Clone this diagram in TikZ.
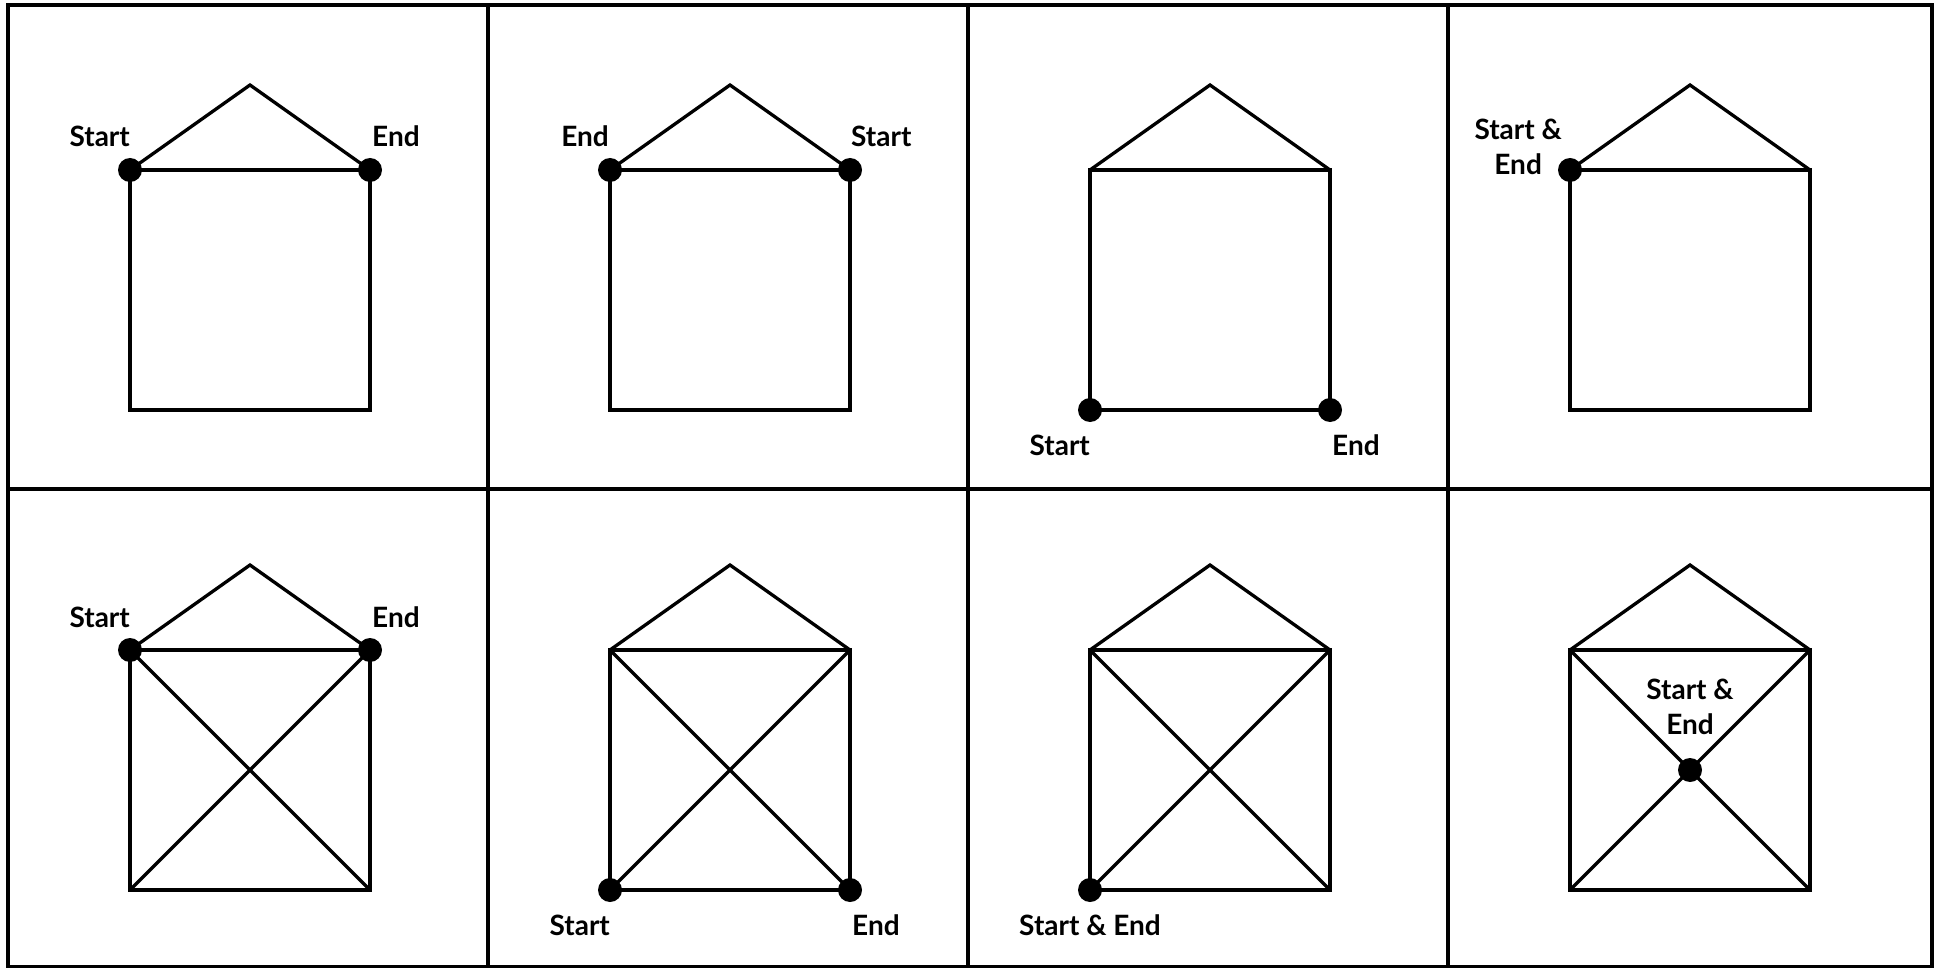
\documentclass[tikz,border=0pt]{standalone}
\usepackage{fontspec}
\setmainfont{Lato}
\begin{document}
\begin{tikzpicture}[x=1pt, y=-1pt, font=\fontsize{28}{35}\selectfont\bfseries]
    \tikzset{
        edge/.style={line width=3.3pt},
        frame/.style={line width=3.6pt},
        dot/.style={circle, fill=black, inner sep=0pt, minimum size=24pt},
        lbl/.style={inner sep=0pt, align=center}
    }
    \useasboundingbox (0,0) rectangle (1939,968);
    % ============= KHUNG
    \draw[frame] (8,5) rectangle (1932,967);
    \foreach \x in {488,968,1448} {\draw[frame] (\x,5) -- (\x,967);}
    \draw[frame] (8,489) -- (1932,489);
    % ============= NGÔI NHÀ
    \newcommand{\drawhouse}[4]{
        \begin{scope}[shift={(#1,#2)}]
            \coordinate (#3bl) at (130,410);
            \coordinate (#3br) at (370,410);
            \coordinate (#3tr) at (370,170);
            \coordinate (#3tl) at (130,170);
            \coordinate (#3ap) at (250,85);
            \coordinate (#3c) at (250,290);
            \draw[edge] (#3bl) -- (#3br) -- (#3tr) -- (#3tl) -- cycle;
            \draw[edge] (#3tl) -- (#3ap) -- (#3tr);
            \ifnum#4=1 \draw[edge] (#3tl) -- (#3br) (#3tr) -- (#3bl); \fi
        \end{scope}
    }
    \foreach \n/\c/\r/\d in {1/0/0/0, 2/1/0/0, 3/2/0/0, 4/3/0/0, 5/0/1/1, 6/1/1/1, 7/2/1/1, 8/3/1/1}{
        \drawhouse{480*\c}{480*\r}{p\n}{\d}
    }
    %---
    \foreach \p in {p1tl,p1tr,p2tl,p2tr,p3bl,p3br,p4tl,p5tl,p5tr,p6bl,p6br,p7bl,p8c}{
        \node[dot] (d-\p) at (\p) {};
    }
    \foreach \p/\a/\dx/\dy/\t in {p1tl/base east/0/23/Start, p1tr/base west/2/23/End,
        p2tl/base east/-1/23/End, p2tr/base west/1/23/Start,
        p3bl/base east/0/-45/Start, p3br/base west/2/-45/End,
        p4tl/east/-8/23/{Start \&\\End},
        p5tl/base east/0/23/Start, p5tr/base west/2/23/End,
        p6bl/base east/0/-45/Start, p6br/base west/2/-45/End,
        p7bl/base/0/-45/{Start \& End}, p8c/south/0/35/{Start \&\\End}}{
        \node[lbl, anchor=\a, xshift=\dx pt, yshift=\dy pt] (l-\p) at (\p) {\t};
    }
\end{tikzpicture}
\end{document}
